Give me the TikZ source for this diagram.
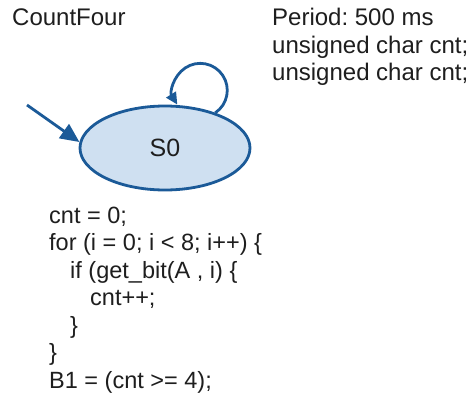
\documentclass[tikz,border=0pt]{standalone}
\usepackage{fontspec}
\setmainfont{Liberation Sans}
\usetikzlibrary{shapes.geometric,arrows.meta}

\definecolor{statefill}{HTML}{CFE0F1}
\definecolor{stateline}{HTML}{1B5A98}
\definecolor{inktext}{HTML}{1E1E1E}

\tikzset{
  statebox/.style={ellipse, draw=stateline, fill=statefill, line width=2.8pt,
    minimum width=170pt, minimum height=84pt, inner sep=0pt,
    text=inktext, font=\fontsize{25}{28}\selectfont},
  label/.style={anchor=base west, inner sep=0pt, text=inktext,
    font=\fontsize{24}{27}\selectfont},
  codeline/.style={anchor=base west, inner sep=0pt, text=inktext,
    font=\fontsize{23.5}{27}\selectfont},
  trans/.style={draw=stateline, line width=2.8pt},
}

\begin{document}
\frenchspacing
\begin{tikzpicture}[x=1pt, y=-1pt]
  \useasboundingbox (0,0) rectangle (470,396);
  \clip (0,0) rectangle (470,396);
  \fill[white] (0,0) rectangle (470,396);

  % machine name and declarations
  \node[label] (name) at (12,26) {CountFour};
  \node[label] (period) at (272,26) {Period: 500 ms};
  \node[label] (decl1) at (272,53) {unsigned char cnt;};
  \node[label] (decl2) at (272,80) {unsigned char cnt;};

  % the single state
  \node[statebox] (s0) at (165,148) {S0};

  % initial transition
  \coordinate (init) at (27,105);
  \draw[trans, -{Triangle[length=19pt, width=17pt]}] (init) -- (s0.176);

  % self loop
  \draw[trans, -{Triangle[length=12pt, width=11pt]}]
    (s0.35) arc[start angle=56, end angle=-212, radius=27];

  % state action
  \node[codeline] (c1) at (49,223) {cnt = 0;};
  \node[codeline] (c2) at (49,250.5) {for (i = 0; i < 8; i++) \{};
  \node[codeline] (c3) at (70,278) {if (get\_bit(A , i) \{};
  \node[codeline] (c4) at (90,305.5) {cnt++;};
  \node[codeline] (c5) at (70,333) {\}};
  \node[codeline] (c6) at (49,360.5) {\}};
  \node[codeline] (c7) at (49,388) {B1 = (cnt >= 4);};
\end{tikzpicture}
\end{document}
